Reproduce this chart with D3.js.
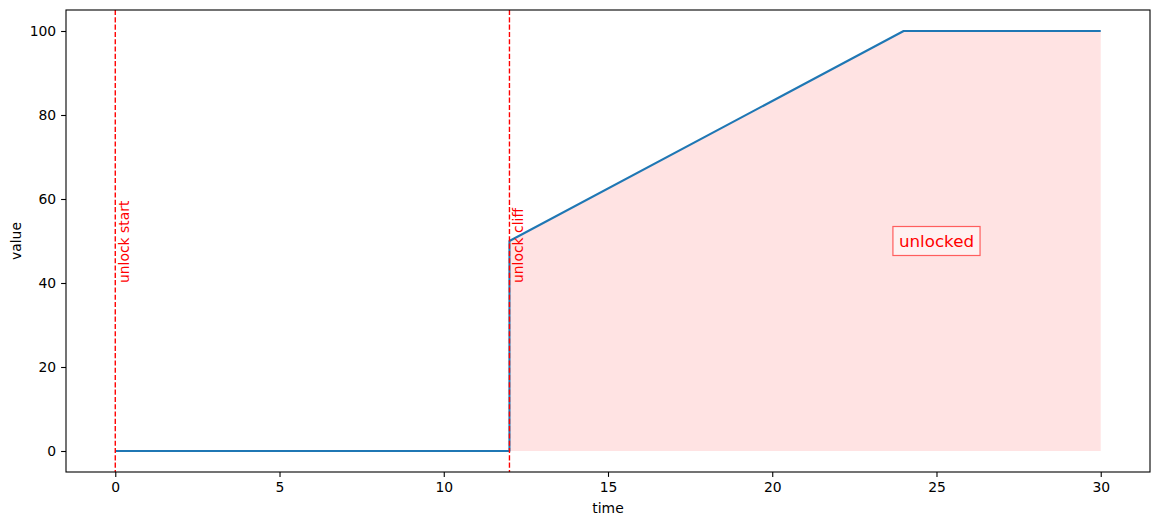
<!DOCTYPE html>
<html lang="en">
<head>
  <meta charset="UTF-8">
  <title>Unlock schedule</title>
  <script src="https://cdn.jsdelivr.net/npm/d3@7"></script>
  <style>
    body { margin: 0; background: #fff; }
    text { font-family: "DejaVu Sans", sans-serif; }
  </style>
</head>
<body>
  <script>
    // schedule data
    const times = [0, 12, 12, 24, 30];
    const values = [0, 0, 50, 100, 100];
    const fillTimes = [12, 24, 30];
    const fillValues = [50, 100, 100];
    const markerTimes = [0, 12];
    const markerLabels = ["unlock start", "unlock cliff"];
    const xTicks = [0, 5, 10, 15, 20, 25, 30];
    const yTicks = [0, 20, 40, 60, 80, 100];

    const width = 1160, height = 525;
    const plotLeft = 66, plotRight = 1150, plotTop = 10, plotBottom = 472;

    const svg = d3.select("body").append("svg")
      .attr("width", width)
      .attr("height", height);

    const x = d3.scaleLinear().domain([-1.5, 31.5]).range([plotLeft, plotRight]);
    const y = d3.scaleLinear().domain([-5, 105]).range([plotBottom, plotTop]);

    // shaded unlocked area
    const fillPts = fillTimes.map((t, i) => [t, fillValues[i]]);
    svg.append("path")
      .datum(fillPts)
      .attr("d", d3.area().x(d => x(d[0])).y0(y(0)).y1(d => y(d[1])))
      .attr("fill", "rgba(255,0,0,0.11)");

    // main line
    const pts = times.map((t, i) => [t, values[i]]);
    svg.append("path")
      .datum(pts)
      .attr("d", d3.line().x(d => x(d[0])).y(d => y(d[1])))
      .attr("fill", "none")
      .attr("stroke", "#1f77b4")
      .attr("stroke-width", 2.08)
      .attr("stroke-linejoin", "round");

    // vertical markers
    markerTimes.forEach((t, i) => {
      svg.append("line")
        .attr("x1", x(t)).attr("x2", x(t))
        .attr("y1", plotTop).attr("y2", plotBottom)
        .attr("stroke", "red")
        .attr("stroke-width", 1.39)
        .attr("stroke-dasharray", "5.1,2.2");
      svg.append("text")
        .attr("transform", `translate(${x(t + 0.1) + 10.5},${y(40)}) rotate(-90)`)
        .attr("font-size", 13.9)
        .attr("fill", "red")
        .text(markerLabels[i]);
    });

    // annotation box
    const g = svg.append("g").attr("transform", `translate(${x(25)},${y(50)})`);
    const lbl = g.append("text")
      .attr("text-anchor", "middle")
      .attr("dy", "0.36em")
      .attr("font-size", 16.7)
      .attr("fill", "red")
      .text("unlocked");
    const bb = lbl.node().getBBox();
    g.insert("rect", "text")
      .attr("x", bb.x - 6).attr("y", -14.5)
      .attr("width", bb.width + 12).attr("height", 29)
      .attr("fill", "rgba(255,255,255,0.5)")
      .attr("stroke", "rgba(255,0,0,0.6)")
      .attr("stroke-width", 1.2);

    // axes
    const xAxis = svg.append("g")
      .attr("transform", `translate(0,${plotBottom})`)
      .call(d3.axisBottom(x).tickValues(xTicks).tickFormat(d3.format("d")).tickSize(4.9).tickPadding(4.9));
    const yAxis = svg.append("g")
      .attr("transform", `translate(${plotLeft},0)`)
      .call(d3.axisLeft(y).tickValues(yTicks).tickFormat(d3.format("d")).tickSize(4.9).tickPadding(4.9));
    [xAxis, yAxis].forEach(a => {
      a.select(".domain").remove();
      a.selectAll("text").attr("font-size", 13.9).attr("font-family", "DejaVu Sans").attr("fill", "#000");
      a.selectAll("line").attr("stroke", "#000").attr("stroke-width", 1.1);
    });

    // frame
    svg.append("rect")
      .attr("x", plotLeft).attr("y", plotTop)
      .attr("width", plotRight - plotLeft).attr("height", plotBottom - plotTop)
      .attr("fill", "none")
      .attr("stroke", "#000")
      .attr("stroke-width", 1.1);

    svg.append("text")
      .attr("x", (plotLeft + plotRight) / 2).attr("y", 513)
      .attr("text-anchor", "middle")
      .attr("font-size", 13.9)
      .text("time");
    svg.append("text")
      .attr("transform", `translate(21,${(plotTop + plotBottom) / 2}) rotate(-90)`)
      .attr("text-anchor", "middle")
      .attr("font-size", 13.9)
      .text("value");
  </script>
</body>
</html>
